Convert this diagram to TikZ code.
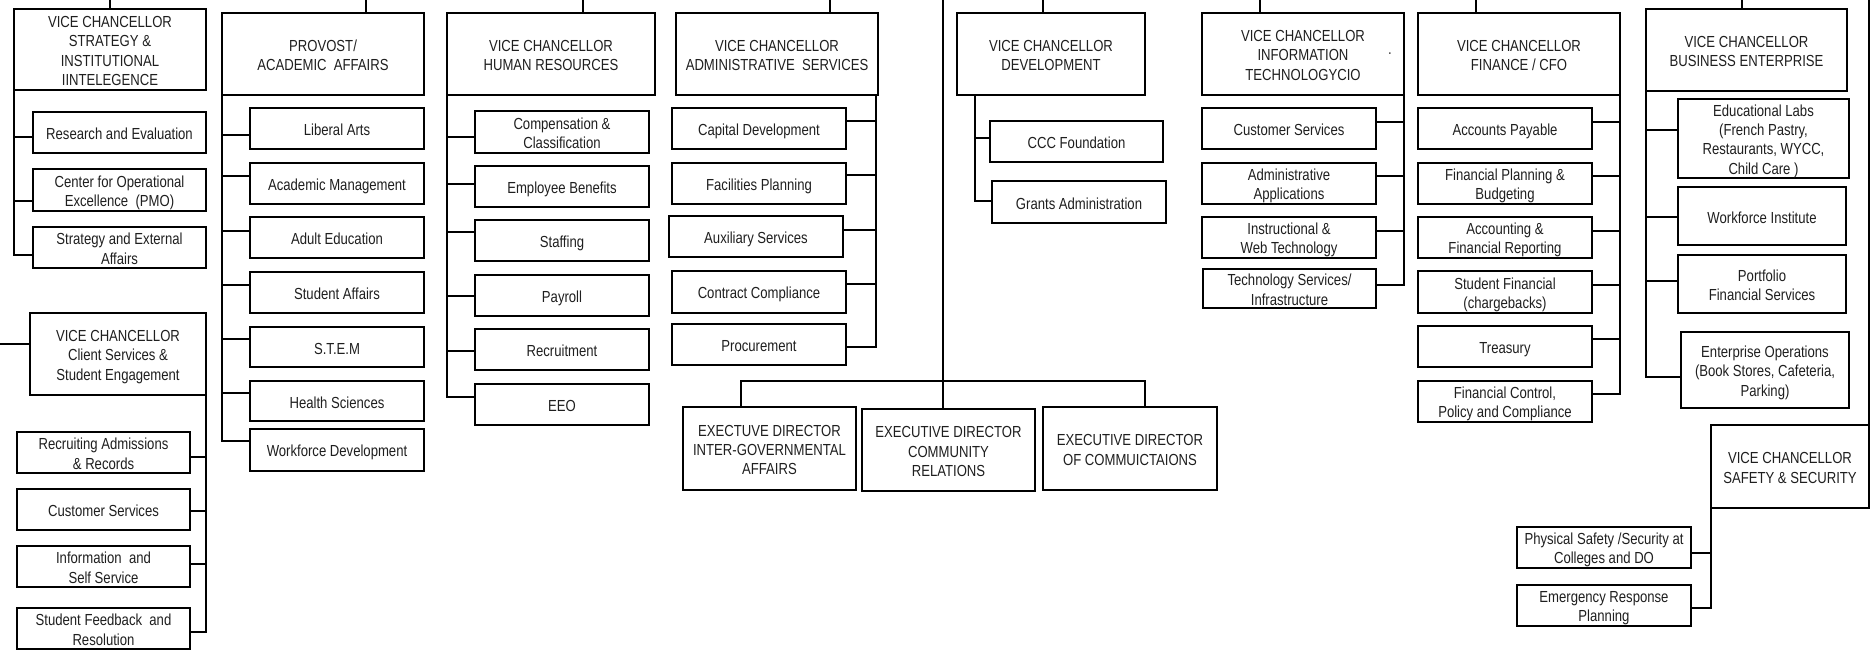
\documentclass[tikz,border=0pt]{standalone}
\usepackage{fontspec}
\setmainfont{Liberation Sans}[FakeStretch=0.82]
\tikzset{
  box/.style={draw, line width=1.7pt, inner xsep=1pt, inner ysep=0pt, outer sep=0pt, align=center,
    font=\fontsize{16}{19.3}\selectfont, text=black!88},
  link/.style={line width=1.7pt},
}
\newcommand\topstrut{\rule{0pt}{17pt}}
\newcommand\botstrut{\rule[-3pt]{0pt}{3pt}}
% \bx{name}{x1}{y1}{x2}{y2}{text}
\newcommand\bx[6]{\node[box, minimum width={(#4-#2)*1pt}, minimum height={(#5-#3)*1pt}] (#1) at ({(#2+#4)/2},{(#3+#5)/2}) {\topstrut#6\botstrut};}
% \upl{node}{xshift}: line from top of node to top edge
\newcommand\upl[2]{\coordinate (#1up) at ([xshift=#2pt]#1.north); \draw[link] (#1up) -- (#1up |- T);}
% branch from bus start to a child's west / east side
\newcommand\brW[3]{\draw[link] (#1) |- ([yshift=#3pt]#2.west);}
\newcommand\brE[3]{\draw[link] (#1) |- ([yshift=#3pt]#2.east);}
\begin{document}
\begin{tikzpicture}[x=1pt,y=-1pt]
\fill[white] (0,0) rectangle (1874,650);
\useasboundingbox (0,0) rectangle (1874,650);
\coordinate (T) at (0,0);

% ---- Strategy
\bx{strat}{14}{9}{206}{90}{VICE CHANCELLOR\\STRATEGY \&\\INSTITUTIONAL\\IINTELEGENCE}
\bx{res}{33}{112}{206}{153}{Research and Evaluation}
\bx{cfo}{33}{169}{206}{211}{Center for Operational\\Excellence\ \ (PMO)}
\bx{sea}{33}{227}{206}{268}{Strategy and External\\Affairs}
\upl{strat}{0}
\brW{strat.south west}{res}{-4.5}
\brW{strat.south west}{cfo}{-11}
\brW{strat.south west}{sea}{-7.5}

% ---- Client services
\bx{cs}{30}{313}{206}{395}{VICE CHANCELLOR\\Client Services \&\\Student Engagement}
\coordinate (csin) at ([yshift=10pt]cs.west);
\draw[link] (csin) -- (csin -| T);
\bx{rar}{17}{432}{190}{473}{Recruiting Admissions\\\& Records}
\bx{ccs}{17}{489}{190}{530}{Customer Services}
\bx{iss}{17}{546}{190}{587}{Information\ \ and\\Self Service}
\bx{sfr}{17}{608}{190}{649}{Student Feedback\ \ and\\Resolution}
\brE{cs.south east}{rar}{-4.5}
\brE{cs.south east}{ccs}{-1.5}
\brE{cs.south east}{iss}{2.5}
\brE{cs.south east}{sfr}{-3.5}

% ---- Provost
\bx{prov}{222}{13}{424}{95}{PROVOST/\\ACADEMIC\ \ AFFAIRS}
\bx{la}{250}{108}{424}{149}{Liberal Arts}
\bx{am}{250}{163}{424}{204}{Academic Management}
\bx{ae}{250}{217}{424}{258}{Adult Education}
\bx{sa}{250}{272}{424}{313}{Student Affairs}
\bx{stem}{250}{327}{424}{367}{S.T.E.M}
\bx{hs}{250}{381}{424}{421}{Health Sciences}
\bx{wd}{250}{429}{424}{471}{Workforce Development}
\upl{prov}{43}
\brW{prov.south west}{la}{-6.5}
\brW{prov.south west}{am}{7.5}
\brW{prov.south west}{ae}{6.5}
\brW{prov.south west}{sa}{7.5}
\brW{prov.south west}{stem}{8}
\brW{prov.south west}{hs}{8}
\brW{prov.south west}{wd}{9}

% ---- Human resources
\bx{hr}{447}{13}{655}{95}{VICE CHANCELLOR\\HUMAN RESOURCES}
\bx{comp}{475}{111}{649}{153}{Compensation \&\\Classification}
\bx{eb}{475}{166}{649}{207}{Employee Benefits}
\bx{stf}{475}{220}{649}{261}{Staffing}
\bx{pay}{475}{275}{649}{316}{Payroll}
\bx{rec}{475}{329}{649}{370}{Recruitment}
\bx{eeo}{475}{384}{649}{425}{EEO}
\upl{hr}{32}
\brW{hr.south west}{comp}{-5}
\brW{hr.south west}{eb}{2.5}
\brW{hr.south west}{stf}{8.5}
\brW{hr.south west}{pay}{-0.5}
\brW{hr.south west}{rec}{-1.5}
\brW{hr.south west}{eeo}{7.5}

% ---- Administrative services
\bx{adm}{676}{13}{878}{95}{VICE CHANCELLOR\\ADMINISTRATIVE\ \ SERVICES}
\bx{cap}{672}{108}{846}{149}{Capital Development}
\bx{fac}{672}{163}{846}{204}{Facilities Planning}
\bx{aux}{669}{216}{843}{257}{Auxiliary Services}
\bx{cc}{672}{271}{846}{313}{Contract Compliance}
\bx{proc}{672}{324}{846}{365}{Procurement}
\upl{adm}{53}
\coordinate (admbus) at ([xshift=-2pt]adm.south east);
\brE{admbus}{cap}{7.5}
\brE{admbus}{fac}{8.5}
\brE{admbus}{aux}{6.5}
\brE{admbus}{cc}{8}
\brE{admbus}{proc}{-2.5}

% ---- Centre line and executive directors
\bx{iga}{683}{407}{856}{490}{EXECTUVE DIRECTOR\\INTER-GOVERNMENTAL\\AFFAIRS}
\bx{ecr}{862}{409}{1035}{491}{EXECUTIVE DIRECTOR\\COMMUNITY\\RELATIONS}
\bx{edc}{1043}{407}{1217}{490}{EXECUTIVE DIRECTOR\\OF COMMUICTAIONS}
\coordinate (ctop) at (943,0);
\coordinate (hub) at (943,381);
\draw[link] (ctop) -- (hub);
\draw[link] (hub) -| ([xshift=-28.5pt]iga.north);
\draw[link] (hub) -- ([xshift=-5.5pt]ecr.north);
\draw[link] (hub) -| ([xshift=15pt]edc.north);

% ---- Development
\bx{dev}{957}{13}{1145}{95}{VICE CHANCELLOR\\DEVELOPMENT}
\bx{ccc}{990}{121}{1163}{162}{CCC Foundation}
\bx{grants}{992}{181}{1166}{223}{Grants Administration}
\upl{dev}{-8}
\coordinate (devbus) at ([xshift=18pt]dev.south west);
\brW{devbus}{ccc}{3.5}
\brW{devbus}{grants}{1}

% ---- Information technology
\bx{it}{1202}{13}{1404}{95}{VICE CHANCELLOR\\INFORMATION\\TECHNOLOGYCIO}
\node[font=\fontsize{16}{19}\selectfont, text=black!80, inner sep=0pt, anchor=base] (itdot) at (1390,55) {.};
\bx{ics}{1202}{108}{1376}{149}{Customer Services}
\bx{aa}{1202}{163}{1376}{204}{Administrative\\Applications}
\bx{iwt}{1202}{217}{1376}{258}{Instructional \&\\Web Technology}
\bx{tsi}{1203}{269}{1376}{308}{Technology Services/\\Infrastructure}
\upl{it}{-43}
\brE{it.south east}{ics}{6.5}
\brE{it.south east}{aa}{7.5}
\brE{it.south east}{iwt}{6.5}
\brE{it.south east}{tsi}{3.5}

% ---- Finance
\bx{fin}{1418}{13}{1620}{95}{VICE CHANCELLOR\\FINANCE / CFO}
\bx{ap}{1418}{108}{1592}{149}{Accounts Payable}
\bx{fpb}{1418}{163}{1592}{204}{Financial Planning \&\\Budgeting}
\bx{afr}{1418}{217}{1592}{258}{Accounting \&\\Financial Reporting}
\bx{sf}{1418}{271}{1592}{313}{Student Financial\\(chargebacks)}
\bx{tre}{1418}{326}{1592}{367}{Treasury}
\bx{fc}{1418}{381}{1592}{422}{Financial Control,\\Policy and Compliance}
\upl{fin}{-43}
\brE{fin.south east}{ap}{6.5}
\brE{fin.south east}{fpb}{7.5}
\brE{fin.south east}{afr}{6.5}
\brE{fin.south east}{sf}{7}
\brE{fin.south east}{tre}{7.5}
\brE{fin.south east}{fc}{7.5}

% ---- Business enterprise
\bx{be}{1646}{9}{1847}{91}{VICE CHANCELLOR\\BUSINESS ENTERPRISE}
\bx{el}{1678}{99}{1849}{178}{Educational Labs\\(French Pastry,\\Restaurants, WYCC,\\Child Care )}
\bx{wi}{1678}{187}{1846}{245}{Workforce Institute}
\bx{pfs}{1678}{255}{1846}{313}{Portfolio\\Financial Services}
\bx{eo}{1681}{332}{1849}{408}{Enterprise Operations\\(Book Stores, Cafeteria,\\Parking)}
\upl{be}{-4.5}
\brW{be.south west}{el}{8.5}
\brW{be.south west}{wi}{-1}
\brW{be.south west}{pfs}{3}
\brW{be.south west}{eo}{-7}

% ---- Safety & security
\bx{ss}{1711}{425}{1869}{508}{VICE CHANCELLOR\\SAFETY \& SECURITY}
\bx{pss}{1517}{527}{1691}{568}{Physical Safety /Security at\\Colleges and DO}
\bx{erp}{1517}{585}{1691}{626}{Emergency Response\\Planning}
\draw[link] (ss.north east) -- (ss.north east |- T);
\brE{ss.south west}{pss}{-5.5}
\brE{ss.south west}{erp}{-2.5}
\end{tikzpicture}
\end{document}
